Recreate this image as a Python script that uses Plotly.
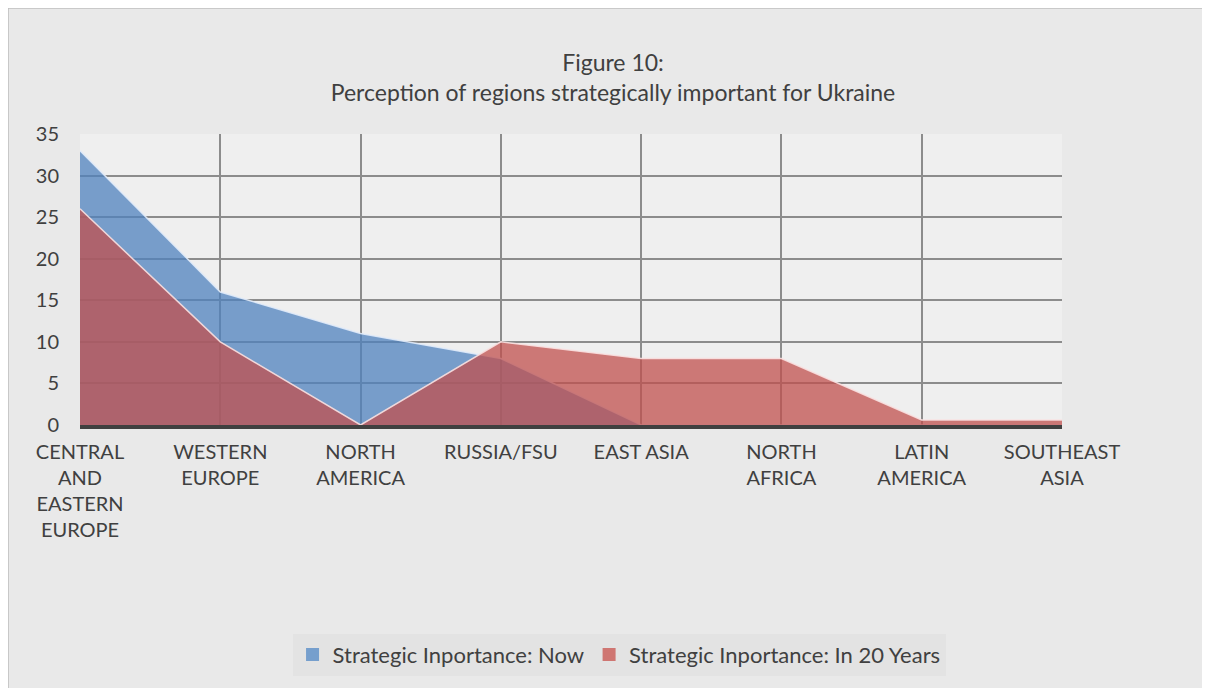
import plotly.graph_objs as go

regions = ['CENTRAL<br>AND<br>EASTERN<br>EUROPE', 'WESTERN<br>EUROPE', 'NORTH<br>AMERICA',
           'RUSSIA/FSU', 'EAST ASIA', 'NORTH<br>AFRICA', 'LATIN<br>AMERICA', 'SOUTHEAST<br>ASIA']
now = [33, 16, 11, 8, 0, 0, 0, 0]
in_20_years = [26, 10, 0, 10, 8, 8, 0.6, 0.6]
series_names = ['Strategic Inportance: Now', 'Strategic Inportance: In 20 Years']

blue_fill = 'rgba(79,129,189,0.75)'
red_fill = 'rgba(192,80,77,0.75)'
font_name = 'Lato, Open Sans, sans-serif'

data = [
    go.Scatter(x=regions, y=now, name=series_names[0], mode='lines', showlegend=False,
               fill='tozeroy', fillcolor=blue_fill,
               line=dict(color='rgba(225,235,250,0.9)', width=1.5)),
    go.Scatter(x=regions, y=in_20_years, name=series_names[1], mode='lines', showlegend=False,
               fill='tozeroy', fillcolor=red_fill,
               line=dict(color='rgba(250,225,225,0.9)', width=1.5)),
    # legend entries with square swatches like the original
    go.Scatter(x=[None], y=[None], name=series_names[0], mode='markers',
               marker=dict(symbol='square', size=13, color='#769fcd')),
    go.Scatter(x=[None], y=[None], name=series_names[1], mode='markers',
               marker=dict(symbol='square', size=13, color='#cf7672')),
]

# plot area: screen x 80..1062, y 134..425 (page has 8px body margin)
layout = go.Layout(
    width=1210, height=688,
    title=dict(text='Figure 10:<br>Perception of regions strategically important for Ukraine',
               x=0.5, xref='container', xanchor='center', y=0.909, yanchor='top',
               font=dict(family=font_name, size=23, color='#404040')),
    font=dict(family=font_name, size=20, color='#404040'),
    paper_bgcolor='#e9e9e9',
    plot_bgcolor='#efefef',
    margin=dict(l=72, r=156, t=126, b=271),
    xaxis=dict(type='category', range=[0, 7], showgrid=True, gridcolor='#8c8c8c', gridwidth=1.5,
               showline=True, linecolor='#404040', linewidth=4, ticks='', ticklabelstandoff=6,
               tickfont=dict(size=20, color='#404040')),
    yaxis=dict(range=[0, 35], dtick=5, showgrid=True, gridcolor='#8c8c8c', gridwidth=1.5,
               zeroline=False, ticks='', ticklabelstandoff=20,
               tickfont=dict(size=20, color='#404040')),
    showlegend=True,
    legend=dict(orientation='h', x=0.505, xref='container', xanchor='center',
                y=0.06, yref='container', yanchor='middle',
                bgcolor='#e3e3e3', font=dict(size=22, color='#404040'),
                itemwidth=30, traceorder='normal'),
    shapes=[dict(type='rect', xref='paper', yref='paper', x0=-0.0733, x1=1.159, y0=-0.931, y1=1.433,
                 line=dict(color='#bfbfbf', width=1.5), fillcolor='rgba(0,0,0,0)', layer='below')],
)

fig = go.Figure(data=data, layout=layout)
fig.write_html('out.html')
